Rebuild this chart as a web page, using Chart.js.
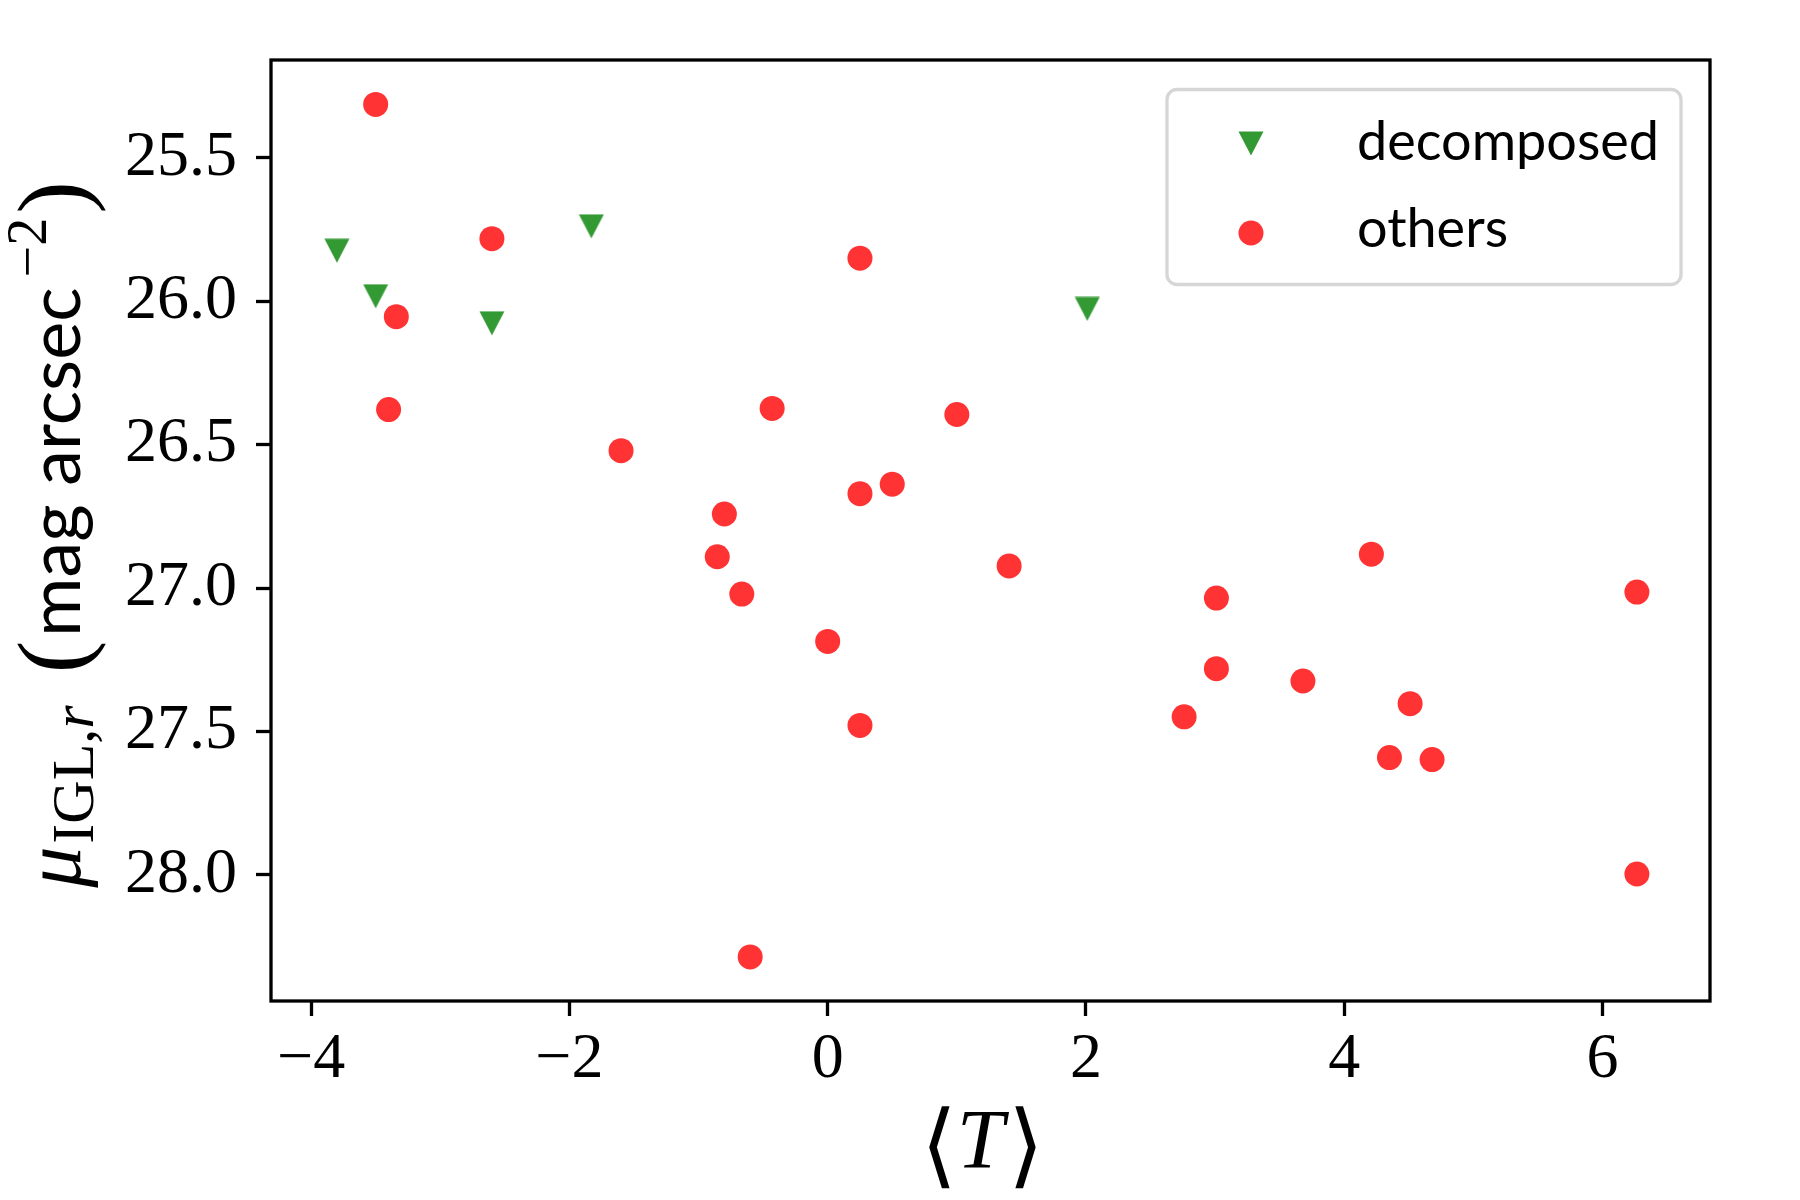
<!DOCTYPE html>
<html>
<head>
<meta charset="utf-8">
<script src="https://cdn.jsdelivr.net/npm/chart.js@4.4.1/dist/chart.umd.min.js"></script>
<style>
  html, body { margin: 0; padding: 0; background: #fff; }
  canvas { display: block; }
</style>
</head>
<body>
<canvas id="chart" width="1800" height="1200"></canvas>
<script>
// decomposed groups (green triangles)
const decomposedT = [-3.80, -3.50, -2.60, -1.83, 2.01];
const decomposedMu = [25.824, 25.983, 26.077, 25.739, 26.027];

// all other groups (red circles)
const othersT = [
  -3.50, -2.60, -3.34, -3.40, -1.60, 0.25, -0.43, 1.00, -0.80, 0.25,
  0.50, -0.855, -0.665, 1.405, 0.00, 0.25, -0.60, 2.76, 3.01, 3.01,
  3.68, 4.21, 4.51, 4.35, 4.68, 6.266, 6.266
];
const othersMu = [
  25.314, 25.782, 26.054, 26.378, 26.521, 25.850, 26.374, 26.395, 26.742, 26.671,
  26.638, 26.891, 27.021, 26.923, 27.186, 27.479, 28.286, 27.449, 27.035, 27.281,
  27.324, 26.882, 27.403, 27.591, 27.598, 27.014, 27.997
];

const xTicks = [-4, -2, 0, 2, 4, 6];
const yTicks = [25.5, 26.0, 26.5, 27.0, 27.5, 28.0];

const green = "rgba(0,128,0,0.8)";
const red = "rgba(255,0,0,0.8)";

// matplotlib-like "v" marker
function makeTriangle(color) {
  const c = document.createElement("canvas");
  c.width = 26;
  c.height = 25;
  const g = c.getContext("2d");
  g.fillStyle = color;
  g.beginPath();
  g.moveTo(0.5, 0.5);
  g.lineTo(25.5, 0.5);
  g.lineTo(13, 24.5);
  g.closePath();
  g.fill();
  return c;
}
const triangle = makeTriangle(green);

const toPoints = (xs, ys) => xs.map((x, i) => ({ x: x, y: ys[i] }));

const frame = {
  id: "frame",
  beforeDraw(chart) {
    const ctx = chart.ctx;
    ctx.save();
    ctx.fillStyle = "#fff";
    ctx.fillRect(0, 0, chart.width, chart.height);
    ctx.restore();
  },
  afterDraw(chart) {
    const ctx = chart.ctx;
    const a = chart.chartArea;
    ctx.save();

    // spines
    ctx.strokeStyle = "#000";
    ctx.lineWidth = 3.3;
    ctx.strokeRect(a.left, a.top, a.right - a.left, a.bottom - a.top);

    // x label <T>
    const cx = (a.left + a.right) / 2 - 8;
    const base = a.bottom + 167;
    ctx.fillStyle = "#000";
    ctx.textBaseline = "alphabetic";
    ctx.font = "italic 85px 'Liberation Serif'";
    const wT = ctx.measureText("T").width;
    ctx.font = "300 92px 'DejaVu Sans'";
    const wL = ctx.measureText("\u27E8").width;
    const total = wL * 2 + wT + 4;
    let u = cx - total / 2;
    ctx.fillText("\u27E8", u, base + 8);
    u += wL;
    ctx.font = "italic 85px 'Liberation Serif'";
    ctx.fillText("T", u, base);
    u += wT + 4;
    ctx.font = "300 92px 'DejaVu Sans'";
    ctx.fillText("\u27E9", u, base + 8);

    // y label  mu_{IGL,r} (mag arcsec^-2)
    const parts = [
      { t: "\u03BC", f: "italic 82px 'Liberation Serif'", dv: 0, gap: 3 },
      { t: "IGL,", f: "60px 'Liberation Serif'", dv: 13, gap: 0 },
      { t: "r", f: "italic 60px 'Liberation Serif'", dv: 13, gap: 32 },
      { t: "(", f: "98px 'Liberation Serif'", dv: 5, gap: 4 },
      { t: "mag arcsec", f: "72px Lato", dv: 0, gap: 10 },
      { t: "\u22122", f: "56px 'Liberation Serif'", dv: -34, gap: 4 },
      { t: ")", f: "98px 'Liberation Serif'", dv: 5, gap: 0 }
    ];
    let len = 0;
    parts.forEach((p) => {
      ctx.font = p.f;
      p.w = ctx.measureText(p.t).width;
      len += p.w + p.gap;
    });
    const cy = (a.top + a.bottom) / 2 + 4;
    ctx.translate(80, cy);
    ctx.rotate(-Math.PI / 2);
    let s = -len / 2;
    parts.forEach((p) => {
      ctx.font = p.f;
      ctx.fillText(p.t, s, p.dv);
      s += p.w + p.gap;
    });
    ctx.setTransform(1, 0, 0, 1, 0, 0);

    // legend
    const bw = 514, bh = 195;
    const bx = a.right - 29 - bw;
    const by = a.top + 29.5;
    ctx.beginPath();
    ctx.roundRect(bx, by, bw, bh, 10);
    ctx.fillStyle = "rgba(255,255,255,0.8)";
    ctx.fill();
    ctx.lineWidth = 3.3;
    ctx.strokeStyle = "#d6d6d6";
    ctx.stroke();

    const ds = chart.data.datasets;
    ctx.drawImage(triangle, bx + 84 - 13, by + 54 - 12.5);
    ctx.beginPath();
    ctx.arc(bx + 84, by + 143.5, 12.5, 0, Math.PI * 2);
    ctx.fillStyle = ds[1].backgroundColor;
    ctx.fill();

    ctx.fillStyle = "#000";
    ctx.font = "54px Lato";
    ctx.fillText(ds[0].label, bx + 190, by + 70.5);
    ctx.fillText(ds[1].label, bx + 190, by + 157);
    ctx.restore();
  }
};

const fmtX = (v) => (v < 0 ? "\u2212" + Math.abs(v) : String(v));

new Chart(document.getElementById("chart"), {
  type: "scatter",
  data: {
    datasets: [
      {
        label: "decomposed",
        data: toPoints(decomposedT, decomposedMu),
        pointStyle: triangle,
        pointRadius: 12.5,
        backgroundColor: green,
        borderWidth: 0,
        order: 1
      },
      {
        label: "others",
        data: toPoints(othersT, othersMu),
        pointStyle: "circle",
        pointRadius: 12.5,
        backgroundColor: red,
        borderWidth: 0,
        order: 0
      }
    ]
  },
  options: {
    responsive: false,
    animation: false,
    devicePixelRatio: 1,
    events: [],
    layout: { padding: { top: 60, right: 90, left: 0, bottom: 0 } },
    plugins: {
      legend: { display: false },
      tooltip: { enabled: false }
    },
    scales: {
      x: {
        type: "linear",
        min: -4.3105,
        max: 6.832,
        afterFit: (scale) => { scale.height = 199; },
        afterBuildTicks: (scale) => { scale.ticks = xTicks.map((v) => ({ value: v })); },
        ticks: {
          color: "#000",
          padding: 6,
          autoSkip: false,
          maxRotation: 0,
          font: { family: "'Liberation Serif'", size: 64 },
          callback: (v) => fmtX(v)
        },
        grid: {
          drawOnChartArea: false,
          drawTicks: true,
          tickLength: 15,
          tickWidth: 3.3,
          tickColor: "#000"
        },
        border: { display: false }
      },
      y: {
        type: "linear",
        reverse: true,
        min: 25.1592,
        max: 28.4397,
        afterFit: (scale) => { scale.width = 271; },
        afterBuildTicks: (scale) => { scale.ticks = yTicks.map((v) => ({ value: v })); },
        ticks: {
          color: "#000",
          padding: 19,
          autoSkip: false,
          font: { family: "'Liberation Serif'", size: 64 },
          callback: (v) => v.toFixed(1)
        },
        grid: {
          drawOnChartArea: false,
          drawTicks: true,
          tickLength: 15,
          tickWidth: 3.3,
          tickColor: "#000"
        },
        border: { display: false }
      }
    }
  },
  plugins: [frame]
});
</script>
</body>
</html>
